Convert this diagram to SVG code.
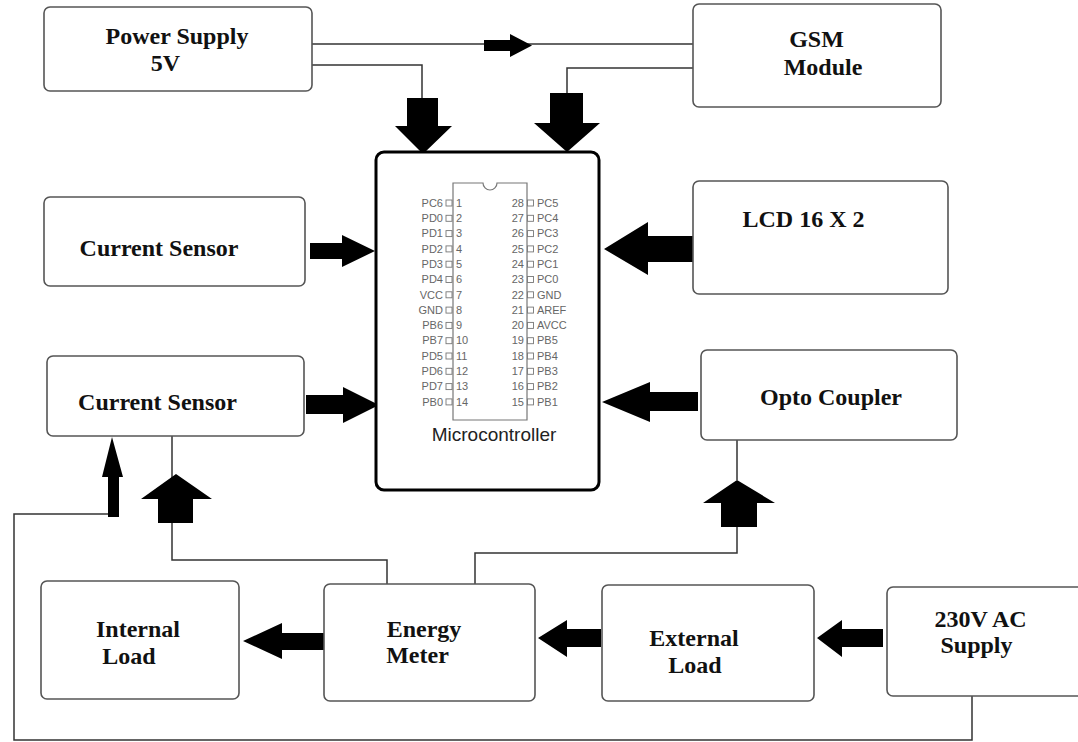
<svg xmlns="http://www.w3.org/2000/svg" width="1078" height="742" viewBox="0 0 1078 742">
<style>
.box{fill:#fff;stroke:#555;stroke-width:1.6}
.lbl{font-family:"Liberation Serif","Times New Roman",serif;font-weight:bold;font-size:24px;fill:#111;text-anchor:middle}
.wire{fill:none;stroke:#333;stroke-width:1.5}
.arr{fill:#000}
.mcu{fill:#fff;stroke:#000;stroke-width:3}
.chip{fill:none;stroke:#777;stroke-width:1.2}
.pin{font-family:"Liberation Sans",Arial,sans-serif;font-size:11px;fill:#666}
.pinL{text-anchor:end}
.sq{fill:#fff;stroke:#777;stroke-width:0.9}
.mlbl{font-family:"Liberation Sans",Arial,sans-serif;font-size:19px;fill:#222;text-anchor:middle}
</style>
<rect width="1078" height="742" fill="#fff"/>

<g id="connectors">
  <path class="wire" d="M312,44 H693"/>
  <path class="wire" d="M312,65 H422 V98"/>
  <path class="wire" d="M693,68 H567 V93"/>
  <path class="wire" d="M172,436 V560 H387 V585"/>
  <path class="wire" d="M737,440 V480 M737,527 V553 H475 V585"/>
  <path class="wire" d="M108,514 H14 V740 H972 V696"/>
  <polygon class="arr" points="484,40 510,40 510,34 532,45.5 510,57 510,51 484,51"/>
  <polygon class="arr" points="407,98 438,98 438,126 452,126 423,154 395,126 407,126"/>
  <polygon class="arr" points="550,93 583,93 583,123 600,123 567,152 534,123 550,123"/>
  <polygon class="arr" points="310,243 342,243 342,235 375,251 342,267 342,259 310,259"/>
  <polygon class="arr" points="693,236 648,236 648,222 604,249 648,275 648,262 693,262"/>
  <polygon class="arr" points="306,395 343,395 343,387 379,405 343,423 343,414 306,414"/>
  <polygon class="arr" points="698,392 650,392 650,382 602,402 650,422 650,411 698,411"/>
  <polygon class="arr" points="325,633 282,633 282,623 243,641 282,659 282,650 325,650"/>
  <polygon class="arr" points="601,629 567,629 567,620 538,638 567,657 567,647 601,647"/>
  <polygon class="arr" points="883,629 842,629 842,620 817,638 842,657 842,647 883,647"/>
  <polygon class="arr" points="158,523 158,499 141,499 176,474 212,499 193,499 193,523"/>
  <polygon class="arr" points="108,517 108,477 102,477 112,437 123,477 119,477 119,517"/>
  <polygon class="arr" points="721,527 721,503 703,503 737,480 775,503 757,503 757,527"/>
</g>

<g id="power-supply">
  <rect class="box" x="44" y="7" width="268" height="84" rx="6"/>
  <text class="lbl" x="177" y="44">Power Supply</text>
  <text class="lbl" x="165.5" y="71">5V</text>
</g>

<g id="gsm-module">
  <rect class="box" x="693" y="4" width="248" height="103" rx="6"/>
  <text class="lbl" x="816.5" y="47">GSM</text>
  <text class="lbl" x="823" y="75">Module</text>
</g>

<g id="current-sensor-1">
  <rect class="box" x="44" y="197" width="261" height="89" rx="6"/>
  <text class="lbl" x="159" y="256">Current Sensor</text>
</g>

<g id="lcd">
  <rect class="box" x="693" y="181" width="255" height="113" rx="6"/>
  <text class="lbl" x="803.5" y="227">LCD 16 X 2</text>
</g>

<g id="current-sensor-2">
  <rect class="box" x="47" y="356" width="257" height="80" rx="6"/>
  <text class="lbl" x="157.5" y="410">Current Sensor</text>
</g>

<g id="opto-coupler">
  <rect class="box" x="701" y="350" width="256" height="90" rx="6"/>
  <text class="lbl" x="831" y="405">Opto Coupler</text>
</g>

<g id="internal-load">
  <rect class="box" x="41" y="581" width="198" height="118" rx="6"/>
  <text class="lbl" x="138" y="637">Internal</text>
  <text class="lbl" x="129" y="664">Load</text>
</g>

<g id="energy-meter">
  <rect class="box" x="324" y="584" width="211" height="117" rx="6"/>
  <text class="lbl" x="424" y="637">Energy</text>
  <text class="lbl" x="417.5" y="663">Meter</text>
</g>

<g id="external-load">
  <rect class="box" x="602" y="585" width="212" height="116" rx="6"/>
  <text class="lbl" x="694" y="646">External</text>
  <text class="lbl" x="695" y="673">Load</text>
</g>

<g id="ac-supply">
  <rect class="box" x="887" y="587" width="210" height="109" rx="6"/>
  <text class="lbl" x="980.5" y="627">230V AC</text>
  <text class="lbl" x="976.5" y="653">Supply</text>
</g>

<g id="microcontroller">
  <rect class="mcu" x="376" y="152" width="223" height="338" rx="8"/>
  <path class="chip" d="M453,183 H483 A7,7 0 0 0 497,183 H527 V420 H453 Z"/>
  <g class="pin">
    <text class="pinL" x="443" y="206.7">PC6</text><rect class="sq" x="446" y="200" width="6" height="6"/><text x="456" y="206.7">1</text>
    <text class="pinL" x="443" y="222">PD0</text><rect class="sq" x="446" y="215.3" width="6" height="6"/><text x="456" y="222">2</text>
    <text class="pinL" x="443" y="237.3">PD1</text><rect class="sq" x="446" y="230.6" width="6" height="6"/><text x="456" y="237.3">3</text>
    <text class="pinL" x="443" y="252.6">PD2</text><rect class="sq" x="446" y="245.9" width="6" height="6"/><text x="456" y="252.6">4</text>
    <text class="pinL" x="443" y="267.9">PD3</text><rect class="sq" x="446" y="261.2" width="6" height="6"/><text x="456" y="267.9">5</text>
    <text class="pinL" x="443" y="283.2">PD4</text><rect class="sq" x="446" y="276.5" width="6" height="6"/><text x="456" y="283.2">6</text>
    <text class="pinL" x="443" y="298.5">VCC</text><rect class="sq" x="446" y="291.8" width="6" height="6"/><text x="456" y="298.5">7</text>
    <text class="pinL" x="443" y="313.8">GND</text><rect class="sq" x="446" y="307.1" width="6" height="6"/><text x="456" y="313.8">8</text>
    <text class="pinL" x="443" y="329.1">PB6</text><rect class="sq" x="446" y="322.4" width="6" height="6"/><text x="456" y="329.1">9</text>
    <text class="pinL" x="443" y="344.4">PB7</text><rect class="sq" x="446" y="337.7" width="6" height="6"/><text x="456" y="344.4">10</text>
    <text class="pinL" x="443" y="359.7">PD5</text><rect class="sq" x="446" y="353" width="6" height="6"/><text x="456" y="359.7">11</text>
    <text class="pinL" x="443" y="375">PD6</text><rect class="sq" x="446" y="368.3" width="6" height="6"/><text x="456" y="375">12</text>
    <text class="pinL" x="443" y="390.3">PD7</text><rect class="sq" x="446" y="383.6" width="6" height="6"/><text x="456" y="390.3">13</text>
    <text class="pinL" x="443" y="405.6">PB0</text><rect class="sq" x="446" y="398.9" width="6" height="6"/><text x="456" y="405.6">14</text>

    <text class="pinL" x="524" y="206.7">28</text><rect class="sq" x="527.5" y="200" width="6" height="6"/><text x="537" y="206.7">PC5</text>
    <text class="pinL" x="524" y="222">27</text><rect class="sq" x="527.5" y="215.3" width="6" height="6"/><text x="537" y="222">PC4</text>
    <text class="pinL" x="524" y="237.3">26</text><rect class="sq" x="527.5" y="230.6" width="6" height="6"/><text x="537" y="237.3">PC3</text>
    <text class="pinL" x="524" y="252.6">25</text><rect class="sq" x="527.5" y="245.9" width="6" height="6"/><text x="537" y="252.6">PC2</text>
    <text class="pinL" x="524" y="267.9">24</text><rect class="sq" x="527.5" y="261.2" width="6" height="6"/><text x="537" y="267.9">PC1</text>
    <text class="pinL" x="524" y="283.2">23</text><rect class="sq" x="527.5" y="276.5" width="6" height="6"/><text x="537" y="283.2">PC0</text>
    <text class="pinL" x="524" y="298.5">22</text><rect class="sq" x="527.5" y="291.8" width="6" height="6"/><text x="537" y="298.5">GND</text>
    <text class="pinL" x="524" y="313.8">21</text><rect class="sq" x="527.5" y="307.1" width="6" height="6"/><text x="537" y="313.8">AREF</text>
    <text class="pinL" x="524" y="329.1">20</text><rect class="sq" x="527.5" y="322.4" width="6" height="6"/><text x="537" y="329.1">AVCC</text>
    <text class="pinL" x="524" y="344.4">19</text><rect class="sq" x="527.5" y="337.7" width="6" height="6"/><text x="537" y="344.4">PB5</text>
    <text class="pinL" x="524" y="359.7">18</text><rect class="sq" x="527.5" y="353" width="6" height="6"/><text x="537" y="359.7">PB4</text>
    <text class="pinL" x="524" y="375">17</text><rect class="sq" x="527.5" y="368.3" width="6" height="6"/><text x="537" y="375">PB3</text>
    <text class="pinL" x="524" y="390.3">16</text><rect class="sq" x="527.5" y="383.6" width="6" height="6"/><text x="537" y="390.3">PB2</text>
    <text class="pinL" x="524" y="405.6">15</text><rect class="sq" x="527.5" y="398.9" width="6" height="6"/><text x="537" y="405.6">PB1</text>
  </g>
  <text class="mlbl" x="494" y="441">Microcontroller</text>
</g>
</svg>
